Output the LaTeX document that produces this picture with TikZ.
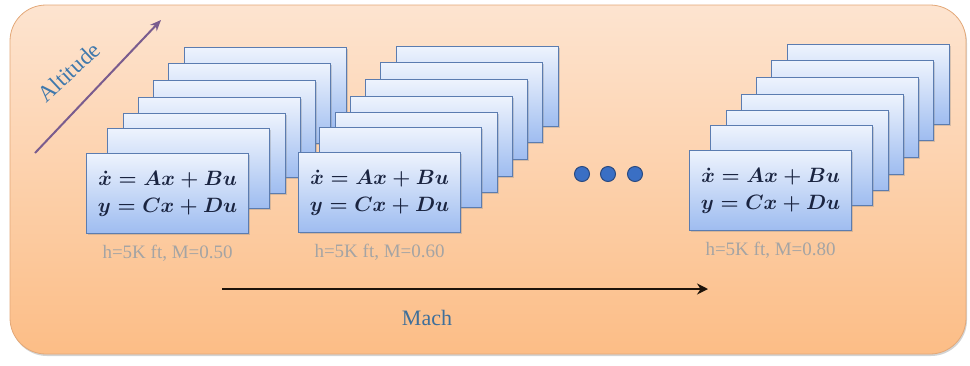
\documentclass[tikz,border=0pt]{standalone}
\usepackage{fontspec}
\setmainfont{Liberation Serif}
\usetikzlibrary{shadows,arrows.meta}
\definecolor{bgtop}{HTML}{FDE4D0}
\definecolor{bgbot}{HTML}{FCBD86}
\definecolor{bgborder}{HTML}{E3A878}
\definecolor{cardtop}{HTML}{EDF3FD}
\definecolor{cardbot}{HTML}{9EBCF0}
\definecolor{cardborder}{HTML}{5B7CB0}
\definecolor{eqcol}{HTML}{1A2440}
\definecolor{labcol}{HTML}{A4A4A4}
\definecolor{machcol}{HTML}{3F6F9A}
\definecolor{altcol}{HTML}{3F78AC}
\definecolor{altarrow}{HTML}{7A5C8E}
\definecolor{dotfill}{HTML}{3A6FC4}
\definecolor{dotborder}{HTML}{2A4A80}
\tikzset{
  card/.style={draw=cardborder, line width=1.2pt, top color=cardtop, bottom color=cardbot,
    minimum width=162pt, minimum height=80pt, anchor=north west, inner sep=0pt,
    drop shadow={shadow xshift=1.5pt, shadow yshift=-1.5pt, opacity=0.3}},
  frontcard/.style={card, text=eqcol, font=\fontsize{22}{27}\selectfont\boldmath, align=center},
  lab/.style={text=labcol, font=\fontsize{19}{21}\selectfont, inner sep=0pt},
  dotn/.style={circle, fill=dotfill, draw=dotborder, line width=1pt, minimum size=15pt, inner sep=0pt},
}
\begin{document}
\begin{tikzpicture}[x=1pt,y=-1pt]
\useasboundingbox (0,0) rectangle (970,365);
\path[draw=bgborder, line width=0.8pt, rounded corners=36pt, top color=bgtop, bottom color=bgbot,
  drop shadow={shadow xshift=1pt, shadow yshift=-2pt, opacity=0.35}] (10,5) rectangle (966,354);
% altitude arrow
\coordinate (a0) at (35,153);
\coordinate (a1) at (161,20);
\draw[altarrow, line width=2pt, -{Stealth[length=11pt,width=9pt]}] (a0) -- (a1);
\node[text=altcol, font=\fontsize{23}{25}\selectfont, rotate=43, inner sep=0pt] (alt) at (69,72) {Altitude};
% stacks
\foreach \s/\fx/\fy/\lb in {1/86/153/0.50, 2/298/152/0.60, 3/689/150/0.80} {
  \foreach \i/\dx/\dy in {6/98/-106, 5/82/-90, 4/67/-73, 3/52/-56, 2/37/-40, 1/21/-25} {
    \node[card] (s\s c\i) at (\fx+\dx, \fy+\dy) {};
  }
  \node[frontcard] (s\s c0) at (\fx,\fy) {$\dot{x} = Ax + Bu$\\ $y = Cx + Du$};
  \node[lab] (lab\s) at ([yshift=-19pt]s\s c0.south) {h=5K ft, M=\lb};
}
% dots
\node[dotn] (d1) at (582,174) {};
\node[dotn] (d2) at (608,174) {};
\node[dotn] (d3) at (635,174) {};
% mach arrow
\coordinate (m0) at (222,289);
\coordinate (m1) at (708,289);
\draw[line width=2.6pt, draw=black!85!brown, -{Stealth[length=11pt,width=11pt]}] (m0) -- (m1);
\node[text=machcol, font=\fontsize{22}{24}\selectfont, inner sep=0pt] (mach) at (427,318) {Mach};
\end{tikzpicture}
\end{document}
